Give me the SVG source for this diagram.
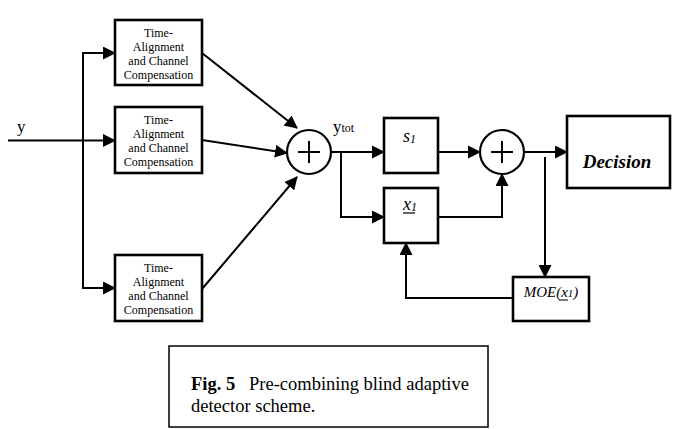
<svg xmlns="http://www.w3.org/2000/svg" width="676" height="429" viewBox="0 0 676 429">
<style>
.box{fill:#fff;stroke:#000;stroke-width:2.6}
.ln{fill:none;stroke:#000;stroke-width:2}
.arr{marker-end:url(#ah)}
.t{font-family:"Liberation Serif","Times New Roman",serif;fill:#000}
.small{font-size:12px;text-anchor:middle}
.circ{fill:#fff;stroke:#000;stroke-width:2.2}
</style>
<defs>
<marker id="ah" markerWidth="13" markerHeight="13" refX="12" refY="6.5" orient="auto" markerUnits="userSpaceOnUse">
<path d="M0,0 L13,6.5 L0,13 Z" fill="#000"/>
</marker>
</defs>
<rect width="676" height="429" fill="#fff"/>
<g id="connectors">
<path class="ln" d="M8,140.5 H83"/>
<path class="ln arr" d="M83,140.5 H115"/>
<path class="ln arr" d="M83,140.5 V53 H115"/>
<path class="ln arr" d="M83,140.5 V288 H115"/>
<path class="ln arr" d="M202,53 L297,128"/>
<path class="ln arr" d="M202,140 L287,153"/>
<path class="ln arr" d="M202,289 L297,177"/>
<path class="ln arr" d="M331,152 H384"/>
<path class="ln arr" d="M341,152 V217 H384"/>
<path class="ln arr" d="M438,152 H480"/>
<path class="ln arr" d="M438,217 H502 V174"/>
<path class="ln arr" d="M524,152 H567"/>
<path class="ln arr" d="M545,157 V277"/>
<path class="ln arr" d="M513,298 H406 V243"/>
</g>
<text class="t" x="17" y="132" font-size="17">y</text>
<g id="tac1">
<rect class="box" x="115" y="20" width="87" height="65"/>
<text class="t small" x="158.5" y="37">Time-</text>
<text class="t small" x="158.5" y="51">Alignment</text>
<text class="t small" x="158.5" y="65">and Channel</text>
<text class="t small" x="158.5" y="79">Compensation</text>
</g>
<g id="tac2">
<rect class="box" x="115" y="107" width="87" height="66"/>
<text class="t small" x="158.5" y="124">Time-</text>
<text class="t small" x="158.5" y="138">Alignment</text>
<text class="t small" x="158.5" y="152">and Channel</text>
<text class="t small" x="158.5" y="166">Compensation</text>
</g>
<g id="tac3">
<rect class="box" x="115" y="255" width="87" height="66"/>
<text class="t small" x="158.5" y="272">Time-</text>
<text class="t small" x="158.5" y="286">Alignment</text>
<text class="t small" x="158.5" y="300">and Channel</text>
<text class="t small" x="158.5" y="314">Compensation</text>
</g>
<g id="sum1">
<circle class="circ" cx="309" cy="152" r="22"/>
<path class="ln" d="M298,152 H320 M309,141 V163"/>
</g>
<text class="t" x="333" y="132" font-size="17">y<tspan font-size="12">tot</tspan></text>
<g id="s1">
<rect class="box" x="384" y="118" width="54" height="55"/>
<text class="t" x="403" y="142" font-size="18" font-style="italic">s<tspan font-size="12" dy="1">1</tspan></text>
</g>
<g id="x1">
<rect class="box" x="384" y="188" width="54" height="55"/>
<text class="t" x="403" y="210" font-size="18" font-style="italic">x<tspan font-size="12" dy="1">1</tspan></text>
<path d="M403,213 H415" stroke="#000" stroke-width="1.2"/>
</g>
<g id="sum2">
<circle class="circ" cx="502" cy="152" r="22"/>
<path class="ln" d="M491,152 H513 M502,141 V163"/>
</g>
<g id="decision">
<rect class="box" x="567" y="116" width="103" height="72"/>
<text class="t" x="617" y="168" font-size="19" font-weight="bold" font-style="italic" text-anchor="middle">Decision</text>
</g>
<g id="moe">
<rect class="box" x="513" y="277" width="76" height="44"/>
<text class="t" x="551" y="297" font-size="15" font-style="italic" text-anchor="middle">MOE(x<tspan font-size="11">1</tspan>)</text>
<path d="M559,300 H568" stroke="#000" stroke-width="1"/>
</g>
<g id="caption">
<rect x="169" y="346" width="319" height="81" fill="#fff" stroke="#000" stroke-width="1.5"/>
<text class="t" x="191" y="390" font-size="18.5"><tspan font-weight="bold">Fig. 5</tspan><tspan x="249">Pre-combining blind adaptive</tspan></text>
<text class="t" x="191" y="412" font-size="18.5">detector scheme.</text>
</g>
</svg>
